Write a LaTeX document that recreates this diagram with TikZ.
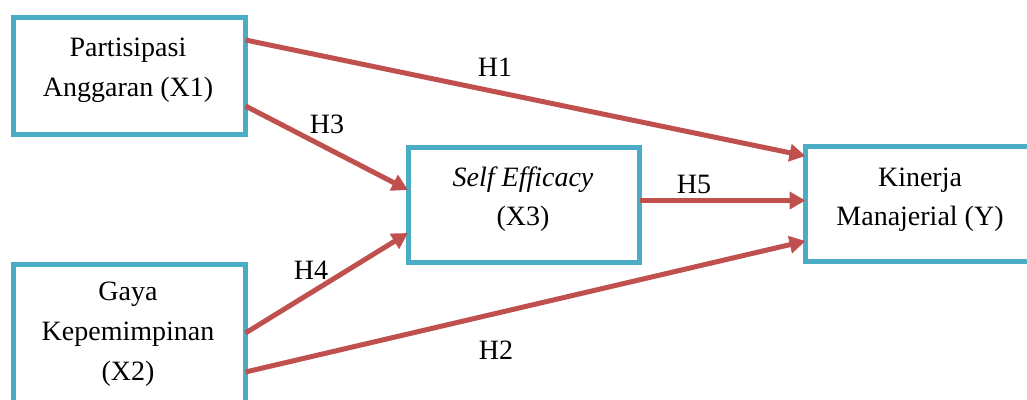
\documentclass[tikz,border=0pt]{standalone}
\usepackage{fontspec}
\setmainfont{Liberation Serif}
\usetikzlibrary{arrows.meta}
\definecolor{boxblue}{HTML}{4BACC6}
\definecolor{pathred}{HTML}{C0504D}
\tikzset{
  varbox/.style={draw=boxblue, line width=5pt, fill=white, outer sep=0pt, inner sep=0pt},
  lbl/.style={anchor=base, inner sep=0pt, font=\fontsize{28}{40}\selectfont},
  path/.style={draw=pathred, line width=5pt, -{Triangle[length=16pt,width=17pt]}},
}
\begin{document}
\begin{tikzpicture}[x=1pt,y=-1pt]
\useasboundingbox (0,0) rectangle (1027,399);
% variable boxes
\node[varbox, minimum width=232pt, minimum height=117pt] (x1) at (129.5,76) {};
\node[varbox, minimum width=232pt, minimum height=166pt] (x2) at (129.5,347) {};
\node[varbox, minimum width=231.5pt, minimum height=114.5pt] (x3) at (523.75,204.75) {};
\node[varbox, minimum width=228.5pt, minimum height=115pt] (y) at (919.75,203.5) {};
% box texts
\node[lbl] (x1a) at (128,56.7) {Partisipasi};
\node[lbl] (x1b) at (128,96.7) {Anggaran (X1)};
\node[lbl] (x2a) at (128,300) {Gaya};
\node[lbl] (x2b) at (128,340) {Kepemimpinan};
\node[lbl] (x2c) at (128,380) {(X2)};
\node[lbl] (x3a) at (523,186) {\itshape Self Efficacy};
\node[lbl] (x3b) at (523,225) {(X3)};
\node[lbl] (ya) at (920,186) {Kinerja};
\node[lbl] (yb) at (920,225) {Manajerial (Y)};
% hypothesised paths
\draw[path] ([yshift=36pt]x1.east) -- ([yshift=47.5pt]y.west);
\draw[path] ([yshift=-30pt]x1.east) -- ([yshift=14.75pt]x3.west);
\draw[path] ([yshift=14pt]x2.east) -- ([yshift=-28.25pt]x3.west);
\draw[path] ([yshift=-25pt]x2.east) -- ([yshift=-37.5pt]y.west);
\draw[path] ([yshift=4.25pt]x3.east) -- ([yshift=3pt]y.west);
% path labels
\node[lbl] (h1) at (495,76) {H1};
\node[lbl] (h2) at (496,359) {H2};
\node[lbl] (h3) at (327,133) {H3};
\node[lbl] (h4) at (311,279) {H4};
\node[lbl] (h5) at (694,193) {H5};
\end{tikzpicture}
\end{document}
